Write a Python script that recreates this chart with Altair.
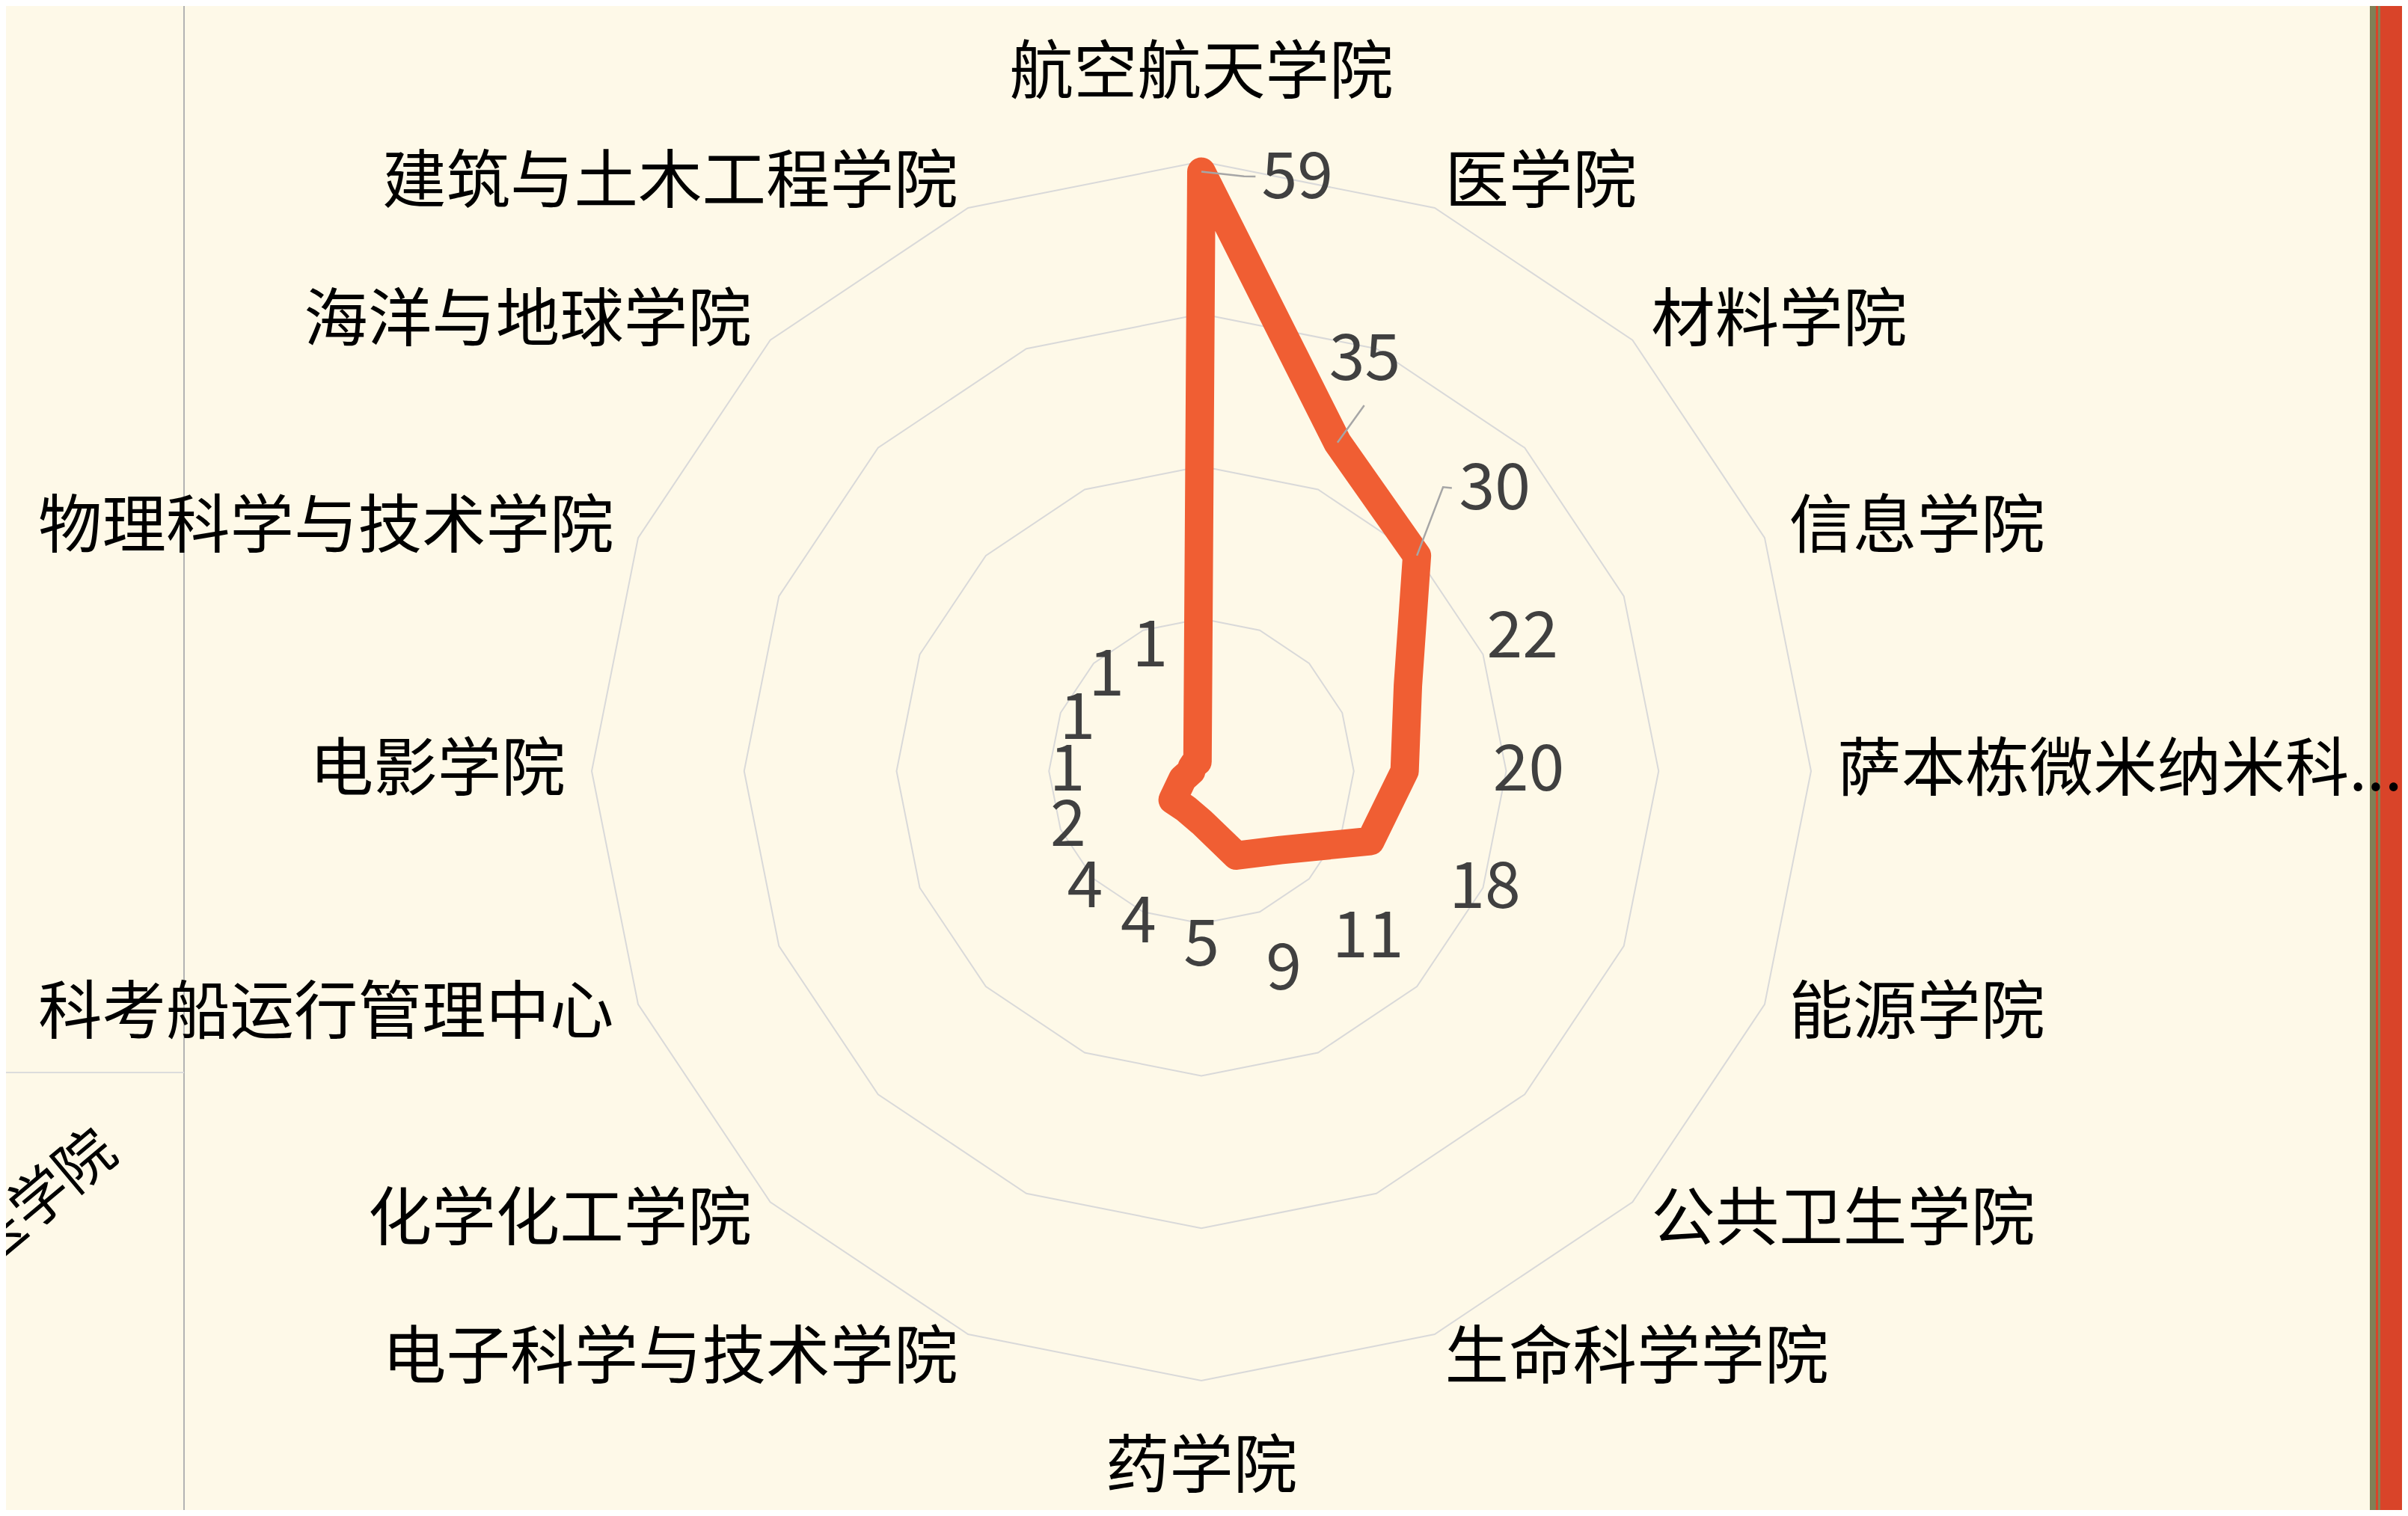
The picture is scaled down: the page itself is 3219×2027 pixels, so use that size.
import math
import altair as alt
import pandas as pd

# ---------------- data ----------------
categories = ["航空航天学院", "医学院", "材料学院", "信息学院", "萨本栋微米纳米科...",
              "能源学院", "公共卫生学院", "生命科学学院", "药学院", "电子科学与技术学院",
              "化学化工学院", "科考船运行管理中心", "电影学院", "物理科学与技术学院",
              "海洋与地球学院", "建筑与土木工程学院"]
values = [59, 35, 30, 22, 20, 18, 11, 9, 5, 4, 4, 2, 1, 1, 1, 1]
ring_levels = [15, 30, 45, 60]
axis_max = 60
side_panel_text = ["医学院"]

# ---------------- layout ----------------
FONT = "Noto Sans CJK SC"
W, H = 3203, 2011
CX, CY = 1598, 1023          # centre of the radar in plot pixels
R_PX = 815                   # pixel radius of the outer ring
k = R_PX / axis_max
xdom = [-CX / k, (W - CX) / k]
ydom = [-(H - CY) / k, CY / k]
N = len(categories)
STEP = 360.0 / N

# label layout (radial offset in value units, angular offset in degrees)
default_nudge = (12.2, 0.0)
label_nudge = {"航空航天学院": (0.07, 9.2), "医学院": (8.5, -0.8), "材料学院": (10.0, 1.2)}
# leader lines: elbow points (radius in value units, angle in degrees)
leader_pts = {"航空航天学院": [(58.7, 4.1), (58.77, 5.2)],
              "医学院": [(39.4, 24.0)],
              "材料学院": [(36.7, 40.4), (37.2, 41.5)]}

X = alt.X("x:Q", scale=alt.Scale(domain=xdom, nice=False, zero=False), axis=None)
Y = alt.Y("y:Q", scale=alt.Scale(domain=ydom, nice=False, zero=False), axis=None)

polar = dict(x="datum.r * sin(datum.a * PI / 180)", y="datum.r * cos(datum.a * PI / 180)")

# rings
ring_rows = [{"level": lv, "j": j, "r": lv, "a": j * STEP} for lv in ring_levels for j in range(N + 1)]
rings = alt.Chart(pd.DataFrame(ring_rows)).transform_calculate(**polar).mark_line(
    stroke="#d9d9d9", strokeWidth=2).encode(X, Y, detail="level:N", order="j:Q")

# radar polygon
line_rows = [{"cat": categories[i % N], "idx": i, "r": values[i % N], "a": i * STEP} for i in range(N + 1)]
radar = alt.Chart(pd.DataFrame(line_rows)).transform_calculate(**polar).mark_line(
    stroke="#f05e33", strokeWidth=38, strokeJoin="round", strokeCap="round").encode(X, Y, order="idx:Q")

# leader lines
lead_rows = []
for c, pts in leader_pts.items():
    i = categories.index(c)
    lead_rows.append({"cat": c, "s": 0, "r": values[i], "a": i * STEP})
    for s, (r, a) in enumerate(pts, start=1):
        lead_rows.append({"cat": c, "s": s, "r": r, "a": a})
leaders = alt.Chart(pd.DataFrame(lead_rows)).transform_calculate(**polar).mark_line(
    stroke="#a6a6a6", strokeWidth=2.5).encode(X, Y, detail="cat:N", order="s:Q")

# value labels
lab_rows = []
for i, (c, v) in enumerate(zip(categories, values)):
    dr, dth = label_nudge.get(c, default_nudge)
    lab_rows.append({"cat": c, "value": v, "r": v + dr, "a": i * STEP + dth})
vlabels = alt.Chart(pd.DataFrame(lab_rows)).transform_calculate(**polar).mark_text(
    font=FONT, fontSize=86, color="#404040", align="center", baseline="middle").encode(
    X, Y, text=alt.Text("value:Q"))

# category labels
cat_rows = []
for i, c in enumerate(categories):
    a = i * STEP
    s = math.sin(math.radians(a))
    side = "r" if s > 0.01 else ("l" if s < -0.01 else "c")
    cat_rows.append({"cat": c, "a": a, "side": side, "r": 68.6 if side == "c" else 62.6})
cat_base = alt.Chart(pd.DataFrame(cat_rows)).transform_calculate(**polar)
cat_layers = []
for side, align in [("r", "left"), ("l", "right"), ("c", "center")]:
    cat_layers.append(cat_base.transform_filter(alt.datum.side == side).mark_text(
        font=FONT, fontSize=85.5, color="#000000", align=align, baseline="middle").encode(
        X, Y, text="cat:N"))

# dashboard decorations
one = pd.DataFrame({"d": [0]})
vline = alt.Chart(one).mark_rule(color="#b3b3b3", strokeWidth=2).encode(
    x=alt.value(238), y=alt.value(0), y2=alt.value(H))
hline = alt.Chart(one).mark_rule(color="#dcdcdc", strokeWidth=2).encode(
    x=alt.value(0), x2=alt.value(238), y=alt.value(1426))
olive = alt.Chart(one).mark_rect(color="#808056").encode(
    x=alt.value(3160), x2=alt.value(3168), y=alt.value(0), y2=alt.value(H))
red = alt.Chart(one).mark_rect(color="#d94429").encode(
    x=alt.value(3168), x2=alt.value(W), y=alt.value(0), y2=alt.value(H))
thin = alt.Chart(one).mark_rect(color="#7f8458").encode(
    x=alt.value(3171), x2=alt.value(3174), y=alt.value(0), y2=alt.value(H))
side_text = alt.Chart(pd.DataFrame({"t": side_panel_text})).mark_text(
    font=FONT, fontSize=78, color="#000000", angle=320, align="center", baseline="middle").encode(
    x=alt.value(48), y=alt.value(1597), text="t:N")

chart = alt.layer(
    vline, hline, side_text, olive, red, thin,
    rings, radar, leaders, vlabels, *cat_layers
).properties(
    width=W, height=H, background="#fef9e8", padding=0,
    autosize=alt.AutoSizeParams(type="none")
).configure_view(stroke=None)

chart.save("out.html", embed_options={"renderer": "svg", "actions": False})
